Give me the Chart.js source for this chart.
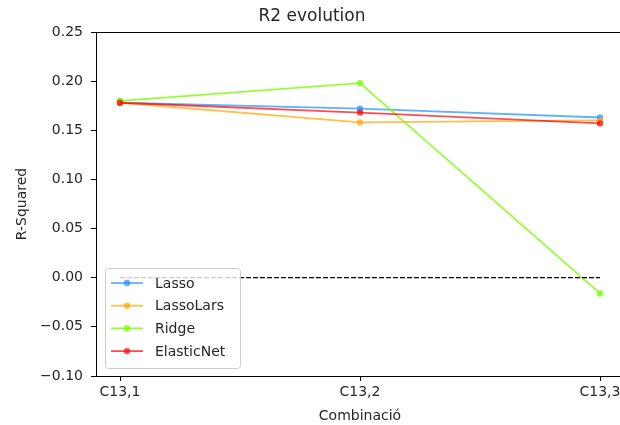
<!DOCTYPE html>
<html>
<head>
<meta charset="utf-8">
<script src="https://cdn.jsdelivr.net/npm/chart.js@4"></script>
<style>
  html, body { margin: 0; padding: 0; background: #fff; overflow: hidden; }
  #wrap { width: 640px; height: 425px; }
</style>
</head>
<body>
<div id="wrap"><canvas id="r2Chart" width="640" height="425"></canvas></div>
<script>
const categories = ["C13,1", "C13,2", "C13,3"];
const lasso = [0.178, 0.172, 0.163];
const lassoLars = [0.178, 0.158, 0.160];
const ridge = [0.180, 0.198, -0.016];
const elasticNet = [0.178, 0.168, 0.157];
const zeroLine = [0, 0, 0];
const yTicks = [-0.10, -0.05, 0.00, 0.05, 0.10, 0.15, 0.20, 0.25];

const FONT = "'DejaVu Sans', sans-serif";
const TEXT = "#262626";

function toPoints(values) {
  return values.map((v, i) => ({ x: i, y: v }));
}

function series(label, values, color, order) {
  return {
    label: label,
    data: toPoints(values),
    borderColor: color,
    backgroundColor: color,
    borderWidth: 1.8,
    pointRadius: 3.2,
    pointHoverRadius: 3.2,
    pointBorderWidth: 0,
    tension: 0,
    order: order,
  };
}

// frame round the plot area
const framePlugin = {
  id: "frame",
  afterDatasetsDraw(chart) {
    const { ctx, chartArea: a } = chart;
    ctx.save();
    ctx.strokeStyle = "#000";
    ctx.lineWidth = 1;
    ctx.strokeRect(Math.round(a.left) + 0.5, Math.round(a.top) + 0.5,
      Math.round(a.right - a.left), Math.round(a.bottom - a.top));
    ctx.restore();
  },
};

// legend box in the lower left corner of the plot
const boxLegend = {
  id: "boxLegend",
  afterDraw(chart) {
    const { ctx, chartArea: a } = chart;
    const items = chart.data.datasets.filter((d) => d.label);
    const w = 135, h = 100;
    const x = Math.round(a.left) + 9;
    const y = Math.round(a.bottom) - 8 - h;
    ctx.save();
    ctx.fillStyle = "rgba(255,255,255,0.8)";
    ctx.strokeStyle = "#cccccc";
    ctx.lineWidth = 1;
    ctx.beginPath();
    ctx.roundRect(x + 0.5, y + 0.5, w, h, 3);
    ctx.fill();
    ctx.stroke();
    ctx.font = "14px " + FONT;
    ctx.textBaseline = "middle";
    items.forEach((d, i) => {
      const ry = y + 15 + i * 22.7;
      ctx.strokeStyle = d.borderColor;
      ctx.lineWidth = 1.8;
      ctx.beginPath();
      ctx.moveTo(x + 6, ry);
      ctx.lineTo(x + 38, ry);
      ctx.stroke();
      ctx.fillStyle = d.borderColor;
      ctx.beginPath();
      ctx.arc(x + 22, ry, 3.2, 0, Math.PI * 2);
      ctx.fill();
      ctx.fillStyle = TEXT;
      ctx.fillText(d.label, x + 50, ry + 1);
    });
    ctx.restore();
  },
};

const tickFont = { family: FONT, size: 14 };

const config = {
  type: "line",
  data: {
    datasets: [
      {
        label: "",
        data: toPoints(zeroLine),
        borderColor: "#000",
        borderWidth: 1.2,
        borderDash: [5, 2],
        pointRadius: 0,
        order: 0,
      },
      series("Lasso", lasso, "rgba(30,144,255,0.7)", 4),
      series("LassoLars", lassoLars, "rgba(255,165,0,0.7)", 3),
      series("Ridge", ridge, "rgba(124,252,0,0.8)", 2),
      series("ElasticNet", elasticNet, "rgba(255,0,0,0.7)", 1),
    ],
  },
  options: {
    responsive: false,
    animation: false,
    layout: { padding: { left: 0, right: 16, top: 0, bottom: 0 } },
    plugins: {
      legend: { display: false },
      tooltip: { enabled: false },
      title: {
        display: true,
        text: "R2 evolution",
        color: TEXT,
        font: { family: FONT, size: 17, weight: "normal" },
        padding: { top: 6, bottom: 5.6 },
      },
    },
    scales: {
      x: {
        type: "linear",
        min: -0.1,
        max: 2.1,
        afterBuildTicks: (s) => {
          s.ticks = categories.map((c, i) => ({ value: i }));
        },
        afterFit: (s) => {
          s.height = 49;
        },
        ticks: {
          callback: (v) => categories[v],
          color: TEXT,
          font: tickFont,
          padding: 3,
          maxRotation: 0,
          autoSkip: false,
        },
        grid: { drawOnChartArea: false, drawTicks: true, tickLength: 5, color: "#000" },
        border: { display: false },
        title: {
          display: true,
          text: "Combinació",
          color: TEXT,
          font: tickFont,
          padding: { top: 4, bottom: 0 },
        },
      },
      y: {
        min: -0.1,
        max: 0.25,
        afterBuildTicks: (s) => {
          s.ticks = yTicks.map((v) => ({ value: v }));
        },
        afterFit: (s) => {
          s.width = 96;
        },
        ticks: {
          callback: (v) => v.toFixed(2).replace("-", "\u2212"),
          color: TEXT,
          font: tickFont,
          padding: 8,
        },
        grid: { drawOnChartArea: false, drawTicks: true, tickLength: 5, color: "#000" },
        border: { display: false },
        title: {
          display: true,
          text: "R-Squared",
          color: TEXT,
          font: tickFont,
          padding: { top: 14, bottom: 0 },
        },
      },
    },
  },
  plugins: [framePlugin, boxLegend],
};

var ctx = document.getElementById("r2Chart").getContext("2d");
var r2Chart = new Chart(ctx, config);
</script>
</body>
</html>
